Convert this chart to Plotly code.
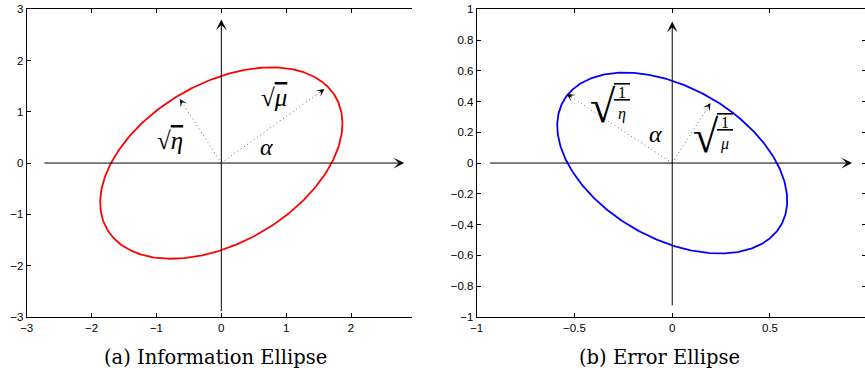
import numpy as np
import plotly.graph_objects as go

# ---------------- data ----------------
alpha_deg = 45.0          # orientation of the ellipses
sqrt_mu = 2.22            # information ellipse, semi-axis along alpha
sqrt_eta = 1.43           # information ellipse, semi-axis along alpha+90
err_minor = 1.0 / sqrt_mu  # error ellipse sqrt(1/mu) along alpha
err_major = 1.0 / sqrt_eta # error ellipse sqrt(1/eta) along alpha+90

# dotted vectors (tips), from the origin
info_vec_mu = (1.59, 1.445)
info_vec_eta = (-0.64, 1.25)
err_vec_eta = (-0.54, 0.45)
err_vec_mu = (0.196, 0.39)

# arrowed axis lines (tail, tip)
info_xaxis_line = ((-2.75, 0.0), (2.82, 0.0))
info_yaxis_line = ((0.0, -2.92), (0.0, 2.80))
err_xaxis_line = ((-0.94, 0.0), (0.92, 0.0))
err_yaxis_line = ((0.0, -0.935), (0.0, 0.92))

# label positions
info_lbl_eta = (-0.79, 0.44)
info_lbl_mu = (0.81, 1.27)
info_lbl_alpha = (0.69, 0.31)
err_lbl_eta = (-0.31, 0.375)
err_lbl_alpha = (-0.084, 0.19)
err_lbl_mu = (0.218, 0.178)

# ticks
x1_ticks = [-3, -2, -1, 0, 1, 2]
x1_text = ["\u22123", "\u22122", "\u22121", "0", "1", "2"]
y1_ticks = [-3, -2, -1, 0, 1, 2, 3]
y1_text = ["\u22123", "\u22122", "\u22121", "0", "1", "2", "3"]
x2_ticks = [-1, -0.5, 0, 0.5]
x2_text = ["\u22121", "\u22120.5", "0", "0.5"]
y2_ticks = [-1, -0.8, -0.6, -0.4, -0.2, 0, 0.2, 0.4, 0.6, 0.8, 1]
y2_text = ["\u22121", "\u22120.8", "\u22120.6", "\u22120.4", "\u22120.2", "0",
           "0.2", "0.4", "0.6", "0.8", "1"]

captions = ["(a) Information Ellipse", "(b) Error Ellipse"]


def ellipse(a, b, ang_deg, n=400):
    t = np.linspace(0, 2 * np.pi, n)
    c, s = np.cos(np.radians(ang_deg)), np.sin(np.radians(ang_deg))
    return a * np.cos(t) * c - b * np.sin(t) * s, a * np.cos(t) * s + b * np.sin(t) * c


fig = go.Figure()

ex, ey = ellipse(sqrt_mu, sqrt_eta, alpha_deg)
fig.add_trace(go.Scatter(x=ex, y=ey, mode="lines", line=dict(color="#ff0000", width=1.8),
                         xaxis="x", yaxis="y", hoverinfo="skip"))
ex2, ey2 = ellipse(err_minor, err_major, alpha_deg)
fig.add_trace(go.Scatter(x=ex2, y=ey2, mode="lines", line=dict(color="#0000ff", width=1.8),
                         xaxis="x2", yaxis="y2", hoverinfo="skip"))
# invisible trace to carry the right-side tick axis
fig.add_trace(go.Scatter(x=[0], y=[0], mode="markers", marker=dict(size=0, opacity=0),
                         xaxis="x2", yaxis="y3", hoverinfo="skip"))

axis_font = dict(family="Liberation Sans, Arial, sans-serif", size=11.5, color="black")
math_font = "Liberation Serif, Times New Roman, serif"

# dotted vectors
for (tip, xr, yr) in [(info_vec_mu, "x", "y"), (info_vec_eta, "x", "y"),
                      (err_vec_eta, "x2", "y2"), (err_vec_mu, "x2", "y2")]:
    fig.add_trace(go.Scatter(x=[0, tip[0]], y=[0, tip[1]], mode="lines",
                             line=dict(color="#666666", width=1, dash="1px,3px"),
                             xaxis=xr, yaxis=yr, hoverinfo="skip"))
    fig.add_annotation(x=tip[0], y=tip[1], ax=tip[0] * 0.94, ay=tip[1] * 0.94,
                       xref=xr, yref=yr, axref=xr, ayref=yr, text="", showarrow=True,
                       arrowhead=3, arrowsize=1.3, arrowwidth=1, arrowcolor="black")

# arrowed axis lines
for (ln, xr, yr) in [(info_xaxis_line, "x", "y"), (info_yaxis_line, "x", "y"),
                     (err_xaxis_line, "x2", "y2"), (err_yaxis_line, "x2", "y2")]:
    (tx, ty), (hx, hy) = ln
    fig.add_annotation(x=hx, y=hy, ax=tx, ay=ty, xref=xr, yref=yr, axref=xr, ayref=yr,
                       text="", showarrow=True, arrowhead=3, arrowsize=1.8,
                       arrowwidth=1, arrowcolor="black")

# labels
def radical_simple(pos, sym, xr, yr):
    fig.add_annotation(x=pos[0], y=pos[1], xref=xr, yref=yr, showarrow=False,
                       text="\u221a<span style='text-decoration:overline'><i>%s</i></span>" % sym,
                       font=dict(family=math_font, size=25, color="black"))


def radical_frac(pos, sym, xr, yr):
    fig.add_annotation(x=pos[0], y=pos[1], xref=xr, yref=yr, showarrow=False,
                       xshift=-9, yshift=-1,
                       text="\u221a", font=dict(family=math_font, size=46, color="black"))
    fig.add_annotation(x=pos[0], y=pos[1], xref=xr, yref=yr, showarrow=False,
                       xshift=10, yshift=2,
                       text="<span style='text-decoration:overline underline'>&nbsp;1&nbsp;</span><br><i>%s</i>" % sym,
                       font=dict(family=math_font, size=16, color="black"))


radical_simple(info_lbl_eta, "\u03b7", "x", "y")
radical_simple(info_lbl_mu, "\u03bc", "x", "y")
fig.add_annotation(x=info_lbl_alpha[0], y=info_lbl_alpha[1], xref="x", yref="y", showarrow=False,
                   text="<i>\u03b1</i>", font=dict(family=math_font, size=24, color="black"))
radical_frac(err_lbl_eta, "\u03b7", "x2", "y2")
radical_frac(err_lbl_mu, "\u03bc", "x2", "y2")
fig.add_annotation(x=err_lbl_alpha[0], y=err_lbl_alpha[1], xref="x2", yref="y2", showarrow=False,
                   text="<i>\u03b1</i>", font=dict(family=math_font, size=24, color="black"))

# captions
for cx, cap in zip([0.2486, 0.762], captions):
    fig.add_annotation(x=cx, y=13 / 370, xref="paper", yref="paper", showarrow=False,
                       xanchor="center", yanchor="middle",
                       text=cap, font=dict(family="DejaVu Serif, serif", size=19.5, color="black"))

common = dict(showgrid=False, zeroline=False, showline=True, linecolor="black", linewidth=1,
              ticks="inside", ticklen=4, tickcolor="black", tickwidth=1, tickfont=axis_font,
              tickmode="array", automargin=False)
ydom = [0.1438, 0.9748]
fig.update_layout(
    template="none",
    width=865, height=370, margin=dict(l=0, r=0, t=0, b=0, pad=0),
    paper_bgcolor="white", plot_bgcolor="white", showlegend=False,
    xaxis=dict(domain=[0.03087, 0.47595], range=[-3, 2.935], tickvals=x1_ticks, ticktext=x1_text,
               mirror="ticks", anchor="y", **common),
    yaxis=dict(domain=ydom, range=[-3, 3], tickvals=y1_ticks, ticktext=y1_text,
               mirror=False, anchor="x", **common),
    xaxis2=dict(domain=[0.5511, 1.0], range=[-1, 0.986], tickvals=x2_ticks, ticktext=x2_text,
                mirror="ticks", anchor="y2", **common),
    yaxis2=dict(domain=ydom, range=[-1, 1], tickvals=y2_ticks, ticktext=y2_text,
                mirror=False, anchor="x2", **common),
    yaxis3=dict(domain=ydom, range=[-1, 1], tickvals=y2_ticks, overlaying="y2", side="right",
                anchor="x2", showgrid=False, zeroline=False, showline=False, ticks="inside",
                ticklen=3, tickcolor="black", showticklabels=False, automargin=False),
)

fig.write_html("out.html")
